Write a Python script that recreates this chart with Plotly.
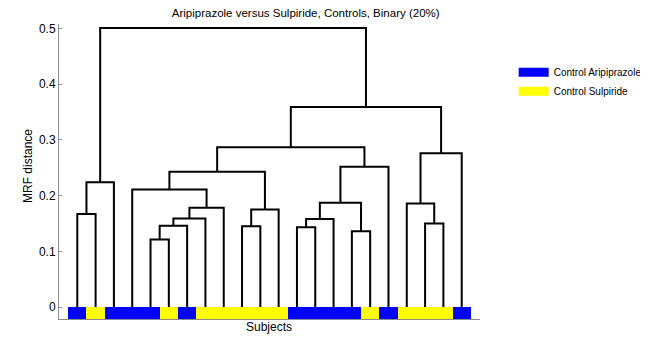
import plotly.graph_objects as go

# leaves of the dendrogram, left to right
subjects = list(range(1, 23))
groups = ["A", "S", "A", "A", "A", "S", "A", "S", "S", "S", "S",
          "S", "A", "A", "A", "A", "S", "A", "S", "S", "S", "A"]

# linkage: clusters 0..21 are leaves, merge k creates cluster 22+k
merge_left = [0, 22, 4, 24, 25, 26, 3, 9, 29, 28, 12,
              32, 15, 33, 35, 31, 19, 18, 39, 37, 23]
merge_right = [1, 2, 5, 6, 7, 8, 27, 10, 11, 30, 13,
               14, 16, 34, 17, 36, 20, 38, 21, 40, 41]
merge_height = [0.167, 0.224, 0.121, 0.146, 0.159, 0.178, 0.211, 0.145, 0.175, 0.243, 0.143,
                0.158, 0.136, 0.187, 0.252, 0.287, 0.150, 0.186, 0.276, 0.359, 0.501]

group_names = {"A": "Control Aripiprazole", "S": "Control Sulpiride"}
group_colors = {"A": "#0000ff", "S": "#ffff00"}

n = len(subjects)
pos = {i: subjects[i] for i in range(n)}
top = {i: 0.0 for i in range(n)}
xs, ys = [], []
for k, (a, b, h) in enumerate(zip(merge_left, merge_right, merge_height)):
    xs += [pos[a], pos[a], pos[b], pos[b], None]
    ys += [top[a], h, h, top[b], None]
    pos[n + k] = (pos[a] + pos[b]) / 2
    top[n + k] = h

fig = go.Figure()

# coloured strip under the leaves
for g in ["A", "S"]:
    sx = [s for s, gg in zip(subjects, groups) if gg == g]
    fig.add_trace(go.Bar(x=sx, y=[-0.021] * len(sx), base=0, width=1,
                         marker=dict(color=group_colors[g], line_width=0),
                         showlegend=False, hoverinfo="skip"))

fig.add_trace(go.Scatter(x=xs, y=ys, mode="lines", line=dict(color="black", width=2),
                         showlegend=False, hoverinfo="skip"))

# legend entries drawn as wide colour swatches
for g in ["A", "S"]:
    fig.add_trace(go.Scatter(x=[None], y=[None], mode="lines",
                             line=dict(color=group_colors[g], width=9),
                             name=group_names[g]))

# page has an 8px body margin, so the figure is 8px smaller and everything is offset
W, H = 640, 350
L, T, PW, PH = 51, 16, 421, 295

fig.update_layout(
    width=W, height=H,
    margin=dict(l=L, r=W - L - PW, t=T, b=H - T - PH, autoexpand=False),
    paper_bgcolor="white", plot_bgcolor="white",
    font=dict(family="Liberation Sans, Arial, sans-serif", size=12, color="black"),
    title=dict(text="Aripiprazole versus Sulpiride, Controls, Binary (20%)",
               x=(305.7 - 59) / PW, xref="paper", xanchor="center",
               y=1 - 5 / H, yanchor="middle", font=dict(size=11.5)),
    barmode="overlay", bargap=0,
    legend=dict(x=1.08, y=0.886, xanchor="left", yanchor="top",
                font=dict(size=10), tracegroupgap=0, itemwidth=30),
    annotations=[
        dict(text="MRF distance", xref="paper", yref="paper", x=-(59 - 28) / PW,
             y=1 - (166 - 24) / PH, textangle=-90, showarrow=False,
             xanchor="center", yanchor="middle"),
        dict(text="Subjects", xref="paper", yref="paper", x=(269 - 59) / PW,
             y=-(327 - 319) / PH, showarrow=False, xanchor="center", yanchor="middle"),
    ],
)
fig.update_xaxes(range=[0, 23], showticklabels=False, ticks="", showgrid=False,
                 zeroline=False, showline=True, linecolor="#8c8c8c", linewidth=1,
                 automargin=False)
fig.update_yaxes(range=[-0.0215, 0.508], tickvals=[0, 0.1, 0.2, 0.3, 0.4, 0.5],
                 ticks="inside", ticklen=3, tickcolor="#8c8c8c", showgrid=False,
                 zeroline=False, showline=True, linecolor="#8c8c8c", linewidth=1,
                 automargin=False)

fig.write_html("out.html")
